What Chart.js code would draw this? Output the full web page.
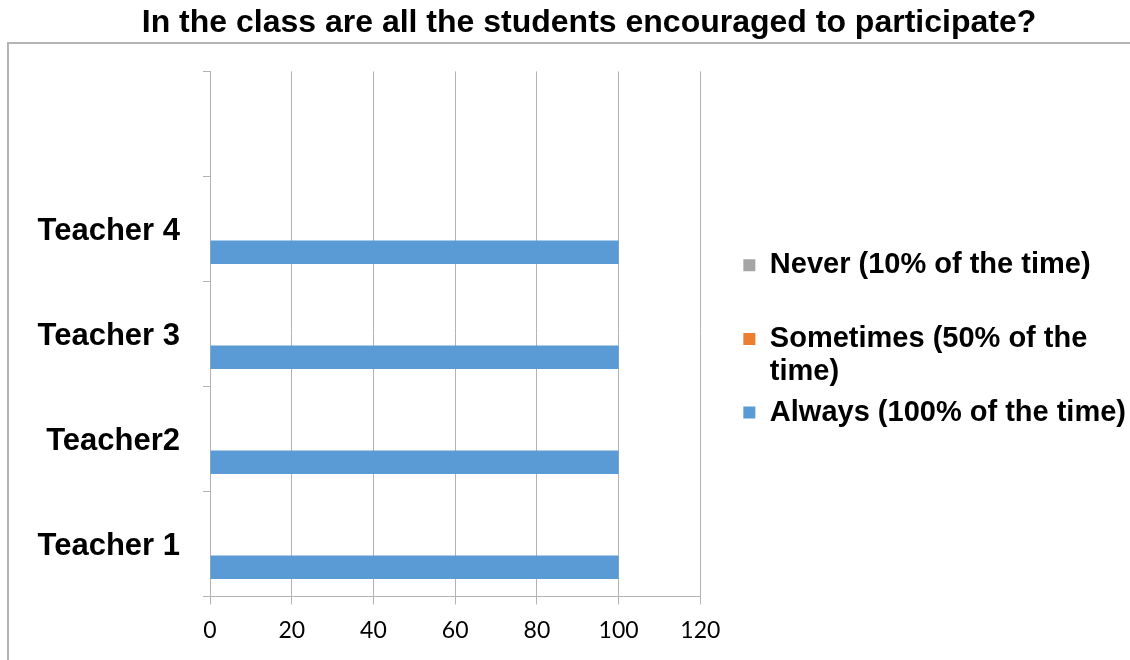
<!DOCTYPE html>
<html>
<head>
<meta charset="utf-8">
<script src="https://cdn.jsdelivr.net/npm/chart.js@4.4.1/dist/chart.umd.min.js"></script>
<style>
  html, body { margin: 0; padding: 0; background: #fff; }
  #wrap { position: relative; width: 1130px; height: 660px; overflow: hidden; }
  #frame { position: absolute; left: 7px; top: 42px; width: 1200px; height: 700px;
           border: 2px solid #b5b5b5; box-sizing: border-box; }
  canvas { position: absolute; left: 0; top: 0; }
</style>
</head>
<body>
<div id="wrap">
  <div id="frame"></div>
  <canvas id="chart" width="1160" height="660"></canvas>
</div>
<script>
// Categories listed top to bottom (the top slot is left empty)
const categories = ['', 'Teacher 4', 'Teacher 3', 'Teacher2', 'Teacher 1'];

// Series values per category
const neverValues     = [null, 0, 0, 0, 0];
const sometimesValues = [null, 0, 0, 0, 0];
const alwaysValues    = [null, 100, 100, 100, 100];

const seriesNames  = ['Never (10% of the time)', 'Sometimes (50% of the time)', 'Always (100% of the time)'];
const seriesColors = ['#A5A5A5', '#ED7D31', '#5B9BD5'];

// Legend text, split into lines
const legendLines = [
  ['Never (10% of the time)', ''],
  ['Sometimes (50% of the', 'time)'],
  'Always (100% of the time)'
];

const xMin = 0, xMax = 120, xStep = 20;
const titleText = 'In the class are all the students encouraged to participate?';

const boldFamily = "'Liberation Sans', Arial, Helvetica, sans-serif";
const gridGray = '#b3b3b3';

// invisible vertical axis used only as horizontal spacing
function spacer(width, weight) {
  return {
    type: 'linear',
    position: 'right',
    display: true,
    weight: weight,
    grid: { display: false },
    border: { display: false },
    ticks: { display: false },
    afterFit(scale) { scale.width = width; }
  };
}

new Chart(document.getElementById('chart'), {
  type: 'bar',
  data: {
    labels: categories,
    datasets: [
      { label: seriesNames[0], data: neverValues,     backgroundColor: seriesColors[0], borderWidth: 0, xAxisID: 'x', yAxisID: 'y' },
      { label: seriesNames[1], data: sometimesValues, backgroundColor: seriesColors[1], borderWidth: 0, xAxisID: 'x', yAxisID: 'y' },
      { label: seriesNames[2], data: alwaysValues,    backgroundColor: seriesColors[2], borderWidth: 0, xAxisID: 'x', yAxisID: 'y' }
    ]
  },
  options: {
    indexAxis: 'y',
    responsive: false,
    animation: false,
    categoryPercentage: 2 / 3,
    barPercentage: 1,
    layout: { padding: { left: 28, right: 10, top: 0, bottom: 4 } },
    scales: {
      x: {
        type: 'linear',
        min: xMin,
        max: xMax,
        ticks: { stepSize: xStep, color: '#000', padding: 12,
                 font: { family: 'Lato, Carlito, sans-serif', size: 23 } },
        grid: { color: gridGray, lineWidth: 1, tickLength: 8, drawTicks: true },
        border: { color: gridGray, width: 1 }
      },
      y: {
        grid: { drawOnChartArea: false, drawTicks: true, tickLength: 7, color: gridGray, offset: true },
        border: { color: gridGray, width: 1 },
        ticks: { color: '#000', padding: 23, labelOffset: 3,
                 font: { family: boldFamily, size: 31, weight: 'bold' } },
        afterFit(scale) { scale.width = 182; }
      },
      gapInner: spacer(36, 0),
      gapOuter: spacer(14, 2000)
    },
    plugins: {
      title: {
        display: true,
        text: titleText,
        color: '#000',
        font: { family: boldFamily, size: 32, weight: 'bold', lineHeight: 1.2 },
        padding: { top: 4, bottom: 29 }
      },
      legend: {
        position: 'right',
        align: 'center',
        fullSize: false,
        maxWidth: 460,
        title: { display: true, text: ' ', padding: 0, font: { size: 10, lineHeight: 1 } },
        labels: {
          boxWidth: 12,
          boxHeight: 12,
          padding: 7,
          color: '#000',
          font: { family: boldFamily, size: 29, weight: 'bold', lineHeight: 1.15 },
          generateLabels(chart) {
            const items = Chart.defaults.plugins.legend.labels.generateLabels(chart);
            return items.map((item, i) => Object.assign(item, { text: legendLines[i] }));
          }
        }
      },
      tooltip: { enabled: false }
    }
  }
});
</script>
</body>
</html>
